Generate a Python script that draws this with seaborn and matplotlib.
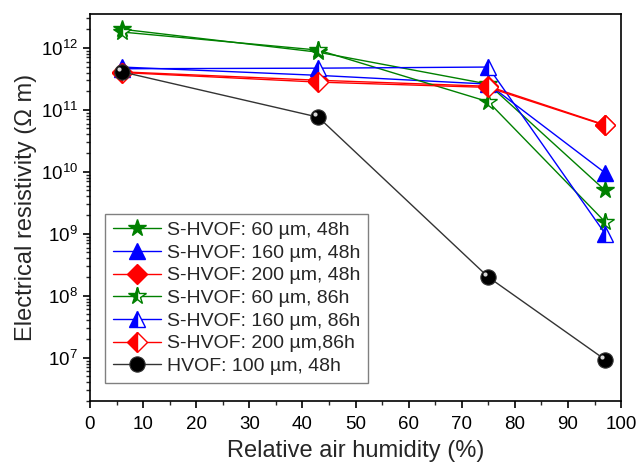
import matplotlib
matplotlib.use('Agg')
import matplotlib.pyplot as plt
import matplotlib.transforms as mtransforms
from matplotlib.ticker import FuncFormatter, NullFormatter
import seaborn as sns
import numpy as np

# Data
humidity = [6, 43, 75, 97]

star_48h = [2.0e12, 0.85e12, 2.6e11, 5.0e9]
tri_48h = [4.9e11, 3.6e11, 2.6e11, 9.6e9]
dia_48h = [4.1e11, 3.0e11, 2.4e11, 5.7e10]
star_86h = [1.8e12, 0.92e12, 1.35e11, 1.55e9]
tri_86h = [4.6e11, 4.7e11, 4.9e11, 1.0e9]
dia_86h = [4.0e11, 2.8e11, 2.3e11, 5.6e10]
hvof_48h = [4.1e11, 7.6e10, 2.0e8, 9.3e6]

labels = ['S-HVOF: 60 µm, 48h', 'S-HVOF: 160 µm, 48h', 'S-HVOF: 200 µm, 48h',
          'S-HVOF: 60 µm, 86h', 'S-HVOF: 160 µm, 86h', 'S-HVOF: 200 µm,86h',
          'HVOF: 100 µm, 48h']

y_lo, y_hi = 2.0e6, 3.5e12

sns.set_style('ticks')
plt.rcParams['font.family'] = ['Liberation Sans', 'DejaVu Sans']

fig = plt.figure(figsize=(6.36, 4.65), dpi=100)
ax = fig.add_axes([0.1415, 0.1376, 0.835, 0.832])

series = [
    (star_48h, 'green', '*', 13, 'full'),
    (tri_48h, 'blue', '^', 12, 'full'),
    (dia_48h, 'red', 'D', 10, 'full'),
    (star_86h, 'green', '*', 13, 'left'),
    (tri_86h, 'blue', '^', 12, 'left'),
    (dia_86h, 'red', 'D', 10, 'left'),
]
for (vals, col, mk, ms, fs), lab in zip(series, labels):
    sns.lineplot(x=humidity, y=vals, ax=ax, color=col, lw=1, marker=mk,
                 markersize=ms, fillstyle=fs, markerfacecolor=col,
                 markerfacecoloralt='white', markeredgecolor=col,
                 markeredgewidth=1, label=lab)

sns.lineplot(x=humidity, y=hvof_48h, ax=ax, color='#333333', lw=1, marker='o',
             markersize=11, markerfacecolor='black', markeredgecolor='#333333',
             markeredgewidth=0.8, label=labels[6])
# little highlight on the black spheres
shift = mtransforms.ScaledTranslation(-2.2 / 72, 2.2 / 72, fig.dpi_scale_trans)
ax.plot(humidity, hvof_48h, ls='none', marker='o', markersize=3,
        color='#d8d8d8', markeredgewidth=0, transform=ax.transData + shift)

ax.set_yscale('log')
ax.set_xlim(0, 100)
ax.set_ylim(y_lo, y_hi)
ax.set_xticks(range(0, 101, 10))
ax.set_xticks(range(5, 100, 10), minor=True)

# only ticks inside the visible range
major = [10.0 ** e for e in range(7, 13)]
minor = [m * 10.0 ** e for e in range(6, 13) for m in range(2, 10)
         if y_lo <= m * 10.0 ** e <= y_hi]
ax.set_yticks(major)
ax.set_yticks(minor, minor=True)
ax.yaxis.set_major_formatter(
    FuncFormatter(lambda v, p: r'$\mathregular{10^{%d}}$' % round(np.log10(v))))
ax.yaxis.set_minor_formatter(NullFormatter())

for s in ax.spines.values():
    s.set_color('black')
    s.set_linewidth(1.2)
ax.tick_params(axis='both', which='major', direction='out', length=5,
               width=1.2, labelsize=13.5, colors='black', top=False, right=False)
ax.tick_params(axis='x', which='major', pad=5.5)
ax.tick_params(axis='both', which='minor', direction='out', length=3,
               width=1, top=False, right=False)

ax.set_xlabel('Relative air humidity (%)', fontsize=17, labelpad=5)
ax.set_ylabel('Electrical resistivity (Ω m)', fontsize=17, labelpad=3)

leg = ax.legend(loc='lower left', bbox_to_anchor=(0.028, 0.047), borderaxespad=0,
                fontsize=14, handlelength=2.5, frameon=True, fancybox=False,
                framealpha=1, edgecolor='#808080', borderpad=0.4,
                labelspacing=0.26, handletextpad=0.3)
leg.get_frame().set_linewidth(1)

fig.savefig('out.png', dpi=100)
